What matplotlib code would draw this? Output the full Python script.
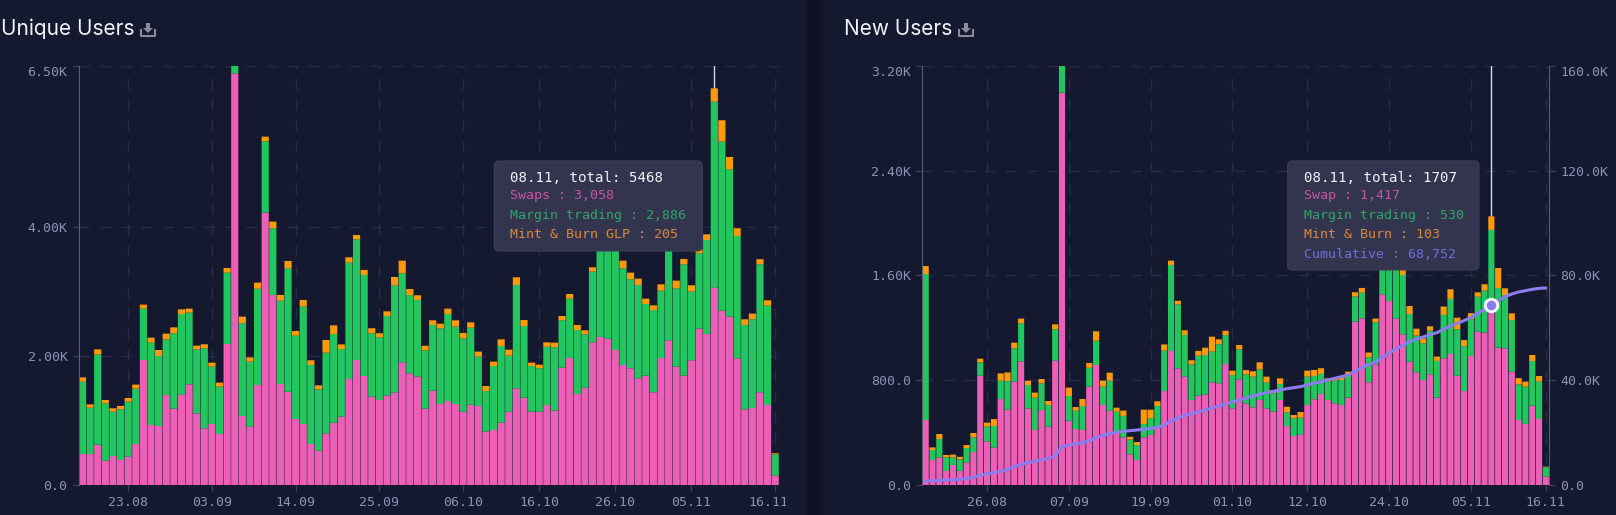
import numpy as np
import matplotlib
matplotlib.use('Agg')
import matplotlib.pyplot as plt
from matplotlib.patches import FancyBboxPatch, Rectangle, Polygon
from matplotlib.lines import Line2D
from matplotlib.transforms import Affine2D, Bbox

# Unique Users
unique_swaps = [480, 480, 625, 377, 450, 388, 439, 636, 1938, 930, 915, 1395, 1183, 1406, 1561, 1111,
                879, 946, 791, 2186, 6382, 1070, 904, 1550, 4222, 2946, 1566, 1447, 1023, 946, 636, 532,
                801, 966, 1059, 1643, 1938, 1690, 1370, 1318, 1385, 1437, 1902, 1731, 1680, 1183, 1463, 1256,
                1302, 1256, 1137, 1245, 1225, 827, 853, 966, 1137, 1499, 1354, 1137, 1137, 1240, 1152, 1819,
                1969, 1411, 1509, 2212, 2295, 2269, 2093, 1860, 1809, 1654, 1695, 1437, 1969, 2243, 1835, 1695,
                1933, 2424, 2341, 3058, 2703, 2610, 1964, 1173, 1194, 1437, 1240, 145]
unique_margin = [1121, 718, 1400, 889, 687, 786, 853, 858, 796, 1276, 1085, 863, 1168, 1245, 1111, 992,
                 1240, 889, 734, 1106, 300, 1437, 1008, 1494, 1106, 1034, 1292, 1912, 1292, 1819, 1225, 951,
                 1251, 1375, 1049, 1804, 1871, 1566, 982, 972, 1235, 1654, 1380, 1214, 1189, 904, 1018, 1173,
                 1349, 1199, 1137, 1194, 765, 630, 992, 1189, 868, 1602, 1111, 708, 672, 904, 982, 734,
                 920, 992, 827, 1096, 1452, 1581, 1602, 1499, 1380, 1447, 1111, 1276, 1044, 1607, 1214, 1726,
                 1065, 1168, 1457, 2886, 2620, 2284, 1897, 1308, 1375, 1985, 1540, 331]
unique_mint = [67, 52, 78, 52, 52, 52, 57, 62, 62, 78, 93, 88, 93, 72, 62, 57,
               62, 62, 62, 72, 60, 103, 67, 93, 72, 103, 88, 114, 72, 103, 72, 62,
               196, 134, 72, 83, 67, 78, 78, 62, 72, 134, 196, 93, 72, 72, 72, 72,
               83, 98, 83, 83, 78, 78, 67, 103, 93, 119, 93, 52, 57, 67, 72, 67,
               72, 78, 62, 67, 103, 103, 103, 119, 103, 98, 83, 72, 98, 78, 119, 83,
               98, 67, 88, 205, 331, 191, 119, 88, 88, 78, 83, 16]

# New Users
new_swaps = [496, 191, 211, 107, 153, 109, 173, 252, 834, 331, 287, 656, 577, 789, 941, 585,
             420, 572, 445, 949, 2994, 491, 427, 420, 750, 916, 611, 567, 399, 364, 234, 191,
             364, 382, 445, 717, 1023, 890, 827, 649, 682, 692, 784, 776, 923, 585, 806, 623,
             593, 649, 585, 560, 649, 450, 374, 387, 611, 654, 695, 649, 623, 611, 667, 1247,
             1272, 784, 921, 1455, 1404, 1272, 1150, 941, 860, 801, 845, 667, 967, 1000, 834, 717,
             985, 1170, 1163, 1417, 1048, 1043, 865, 496, 466, 605, 504, 64]
new_margin = [1114, 76, 140, 104, 59, 86, 109, 112, 102, 114, 163, 140, 216, 254, 293, 178,
              247, 204, 165, 239, 250, 188, 140, 183, 145, 186, 140, 229, 160, 163, 114, 114,
              102, 127, 158, 308, 656, 488, 318, 272, 305, 300, 234, 298, 221, 254, 229, 221,
              234, 234, 196, 140, 122, 104, 135, 127, 216, 178, 153, 140, 173, 191, 173, 191,
              196, 191, 321, 237, 287, 420, 453, 364, 280, 280, 333, 280, 331, 420, 354, 343,
              280, 267, 321, 530, 455, 407, 394, 272, 285, 341, 285, 71]
new_mint = [61, 20, 38, 18, 20, 20, 23, 33, 28, 31, 53, 56, 66, 43, 36, 33,
            38, 33, 31, 38, 30, 64, 28, 53, 36, 71, 46, 61, 31, 41, 20, 23,
            109, 66, 36, 48, 33, 28, 36, 31, 36, 56, 114, 38, 33, 33, 33, 33,
            41, 53, 46, 25, 43, 43, 25, 43, 46, 46, 43, 25, 23, 28, 25, 33,
            36, 36, 28, 38, 51, 38, 38, 61, 53, 38, 33, 33, 64, 74, 89, 46,
            46, 33, 48, 103, 153, 51, 51, 48, 38, 46, 43, 5]
new_cumulative = [1526, 1654, 1781, 1908, 2035, 2162, 2417, 2926, 3689, 4325, 4706, 5215, 5978, 6996, 7886, 8522,
                  9031, 9540, 10049, 11066, 14628, 15264, 15773, 16154, 16918, 17935, 18953, 19589, 20098, 20479, 20734, 20988,
                  21242, 21624, 22006, 22769, 24550, 25567, 26585, 27221, 27857, 28620, 29383, 30146, 30910, 31673, 32436, 33199,
                  33962, 34598, 35234, 35743, 36252, 36761, 37142, 37524, 38160, 38796, 39432, 40068, 40704, 41340, 41976, 43375,
                  44902, 45919, 46937, 48718, 50371, 51898, 53297, 54696, 55714, 56477, 57367, 58130, 59402, 60674, 61692, 62710,
                  63982, 65508, 67034, 68752, 70342, 71868, 72886, 73649, 74158, 74666, 75048, 75175]

left_xticks = [6, 17, 28, 39, 50, 60, 70, 80, 91]
left_xlabels = ['23.08', '03.09', '14.09', '25.09', '06.10', '16.10', '26.10', '05.11', '16.11']
left_yticks = [0, 2000, 4000, 6500]
left_ylabels = ['0.0', '2.00K', '4.00K', '6.50K']

right_xticks = [9, 21, 33, 45, 56, 68, 80, 91]
right_xlabels = ['26.08', '07.09', '19.09', '01.10', '12.10', '24.10', '05.11', '16.11']
right_yticks = [0, 800, 1600, 2400, 3200]
right_ylabels = ['0.0', '800.0', '1.60K', '2.40K', '3.20K']
cum_ticks = [0, 40000, 80000, 120000, 160000]
cum_labels = ['0.0', '40.0K', '80.0K', '120.0K', '160.0K']

W, H = 1616, 515
BG = '#151930'
GAP = '#0f1226'
PINK = '#ec5fb6'
GREEN = '#22c55e'
ORANGE = '#fd9a0b'
PURPLE = '#8b7cf0'
TICK = '#8d90b4'
GRID = '#282b45'
MONO = 'DejaVu Sans Mono'
TITLE_FONT = 'Inter'

fig = plt.figure(figsize=(W / 100, H / 100), dpi=100, facecolor=GAP)
fig.patches.append(Rectangle((0, 0), 805 / W, 1, transform=fig.transFigure, color=BG, zorder=-5))
fig.patches.append(Rectangle((823 / W, 0), 1 - 823 / W, 1, transform=fig.transFigure, color=BG, zorder=-5))


def make_axes(x0, x1, top=65.7, bottom=485):
    return fig.add_axes([x0 / W, 1 - bottom / H, (x1 - x0) / W, (bottom - top) / H], facecolor='none')


def stacked(ax, swaps, margin, mint, ymax, xticks, xlabels, yticks, ylabels, bw):
    x = np.arange(len(swaps))
    swaps, margin, mint = np.array(swaps), np.array(margin), np.array(mint)
    for vals, base, col in [(swaps, 0, PINK), (margin, swaps, GREEN), (mint, swaps + margin, ORANGE)]:
        bars = ax.bar(x, vals, width=bw, bottom=base, color=col, zorder=3)
        for b in bars:
            b.set_snap(False)
    ax.set_xlim(-0.5, len(swaps) - 0.5)
    ax.set_ylim(0, ymax)
    ax.set_xticks(xticks, xlabels)
    ax.set_yticks(yticks, ylabels)
    ax.grid(True, color=GRID, lw=1, dashes=(8, 7), zorder=0)
    ax.tick_params(axis='both', colors=TICK, labelsize=9.5, length=4, width=1, pad=4, color='#3c3f58')
    for lab in ax.get_xticklabels() + ax.get_yticklabels():
        lab.set_fontfamily(MONO)
    ax.get_yticklabels()[-1].set_va('top')
    for name in ['top', 'right', 'bottom']:
        ax.spines[name].set_visible(False)
    ax.spines['left'].set_color('#5b5e72')
    ax.spines['left'].set_zorder(4)


def title(text, x, ix):
    fig.text(x / W, 1 - 29 / H, text, color='#f2f3f7', fontsize=15, family=TITLE_FONT, va='center', ha='left')
    # download icon
    col = '#8a8c9e'
    fig.add_artist(Line2D(np.array([ix - 7, ix - 7, ix + 7, ix + 7]) / W, 1 - np.array([30, 36, 36, 30]) / H,
                          color=col, lw=1.5))
    pts = [(ix - 2, 23), (ix + 2, 23), (ix + 2, 28), (ix + 5, 28), (ix, 33), (ix - 5, 28), (ix - 2, 28)]
    fig.add_artist(Polygon([(p / W, 1 - q / H) for p, q in pts], closed=True, fc=col, ec='none',
                           transform=fig.transFigure))


def tooltip(x0, y0, x1, y1, lines):
    fig.add_artist(FancyBboxPatch((x0 / W, 1 - y1 / H), (x1 - x0) / W, (y1 - y0) / H,
                                  boxstyle='round,pad=0,rounding_size=0.003', mutation_aspect=W / H,
                                  transform=fig.transFigure, fc='#33354f', ec='#3d3f5a', lw=0.8, zorder=10))
    for i, (text, col, yy) in enumerate(lines):
        fig.text((x0 + 16) / W, 1 - yy / H, text, color=col, family=MONO, fontsize=9.6 if i else 10.2,
                 va='center', ha='left', zorder=11)


# left chart
ax1 = make_axes(78.7, 779)
stacked(ax1, unique_swaps, unique_margin, unique_mint, 6500, left_xticks, left_xlabels, left_yticks, left_ylabels, 0.94)
ax1.axvline(83, color='#d8d9e2', lw=1, zorder=2)
ax1.axvline(91.5, color=GRID, lw=1, dashes=(8, 7), zorder=0)
# the last date runs into the panel edge in the original
last = ax1.get_xticklabels()[-1]
last.set_transform(last.get_transform() + Affine2D().translate(-7, 0))
last.set_clip_box(Bbox([[0, 0], [786, H]]))
last.set_clip_on(True)
title('Unique Users', 1, 148)
tooltip(494.3, 161, 702.3, 251, [('08.11, total: 5468', '#f1f2f6', 178),
                                 ('Swaps : 3,058', '#c556a6', 195.5),
                                 ('Margin trading : 2,886', '#2fa668', 215.5),
                                 ('Mint & Burn GLP : 205', '#d9883a', 235)])

# right chart
ax2 = make_axes(922.3, 1549.3)
stacked(ax2, new_swaps, new_margin, new_mint, 3200, right_xticks, right_xlabels, right_yticks, right_ylabels, 0.9)
ax2.axvline(83, color='#d8d9e2', lw=1, zorder=2)
ax3 = ax2.twinx()
ax3.set_ylim(0, 160000)
ax3.set_yticks(cum_ticks, cum_labels)
ax3.tick_params(axis='y', colors=TICK, labelsize=9.5, length=4, width=1, pad=4, color='#3c3f58')
for lab in ax3.get_yticklabels():
    lab.set_fontfamily(MONO)
ax3.get_yticklabels()[-1].set_va('top')
for name in ['top', 'left', 'bottom']:
    ax3.spines[name].set_visible(False)
ax3.spines['right'].set_color('#5b5e72')
ax3.plot(np.arange(len(new_cumulative)), new_cumulative, color=PURPLE, lw=2.2, zorder=5, solid_capstyle='round')
ax3.plot([83], [new_cumulative[83]], 'o', ms=9, mfc=PURPLE, mec='white', mew=2, zorder=6)
title('New Users', 844, 966)
tooltip(1287.7, 161, 1479, 270, [('08.11, total: 1707', '#f1f2f6', 178),
                                 ('Swap : 1,417', '#c556a6', 195.5),
                                 ('Margin trading : 530', '#2fa668', 215.5),
                                 ('Mint & Burn : 103', '#d9883a', 235),
                                 ('Cumulative : 68,752', '#6c6fd8', 254)])

fig.savefig('out.png', dpi=100, facecolor=fig.get_facecolor())
